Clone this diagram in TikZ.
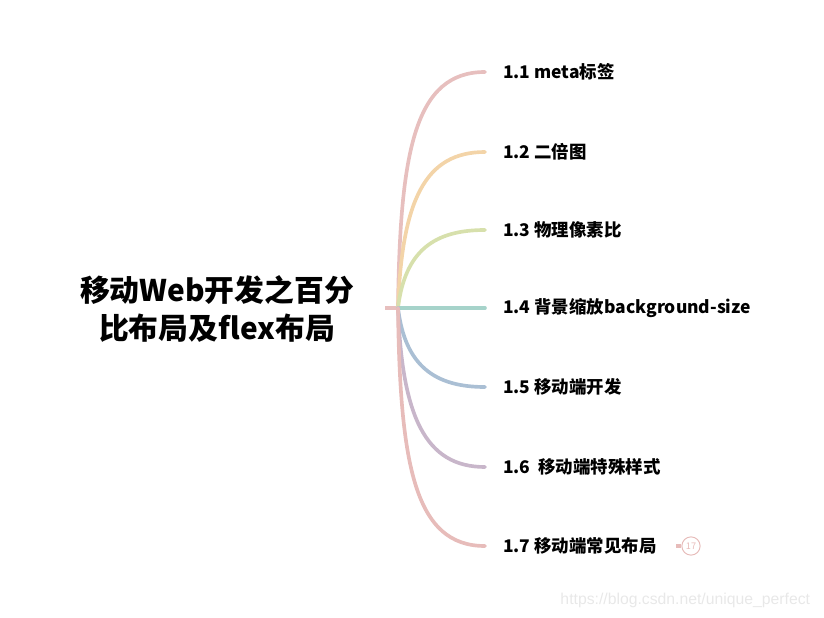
\documentclass[tikz,border=0pt]{standalone}
\usepackage{fontspec}
\setmainfont{Noto Sans CJK SC}
\newfontfamily\markfont{Liberation Sans}
\usetikzlibrary{positioning}
\tikzset{
c1/.style={color={rgb,255:red,231;green,191;blue,190}},
c2/.style={color={rgb,255:red,243;green,212;blue,168}},
c3/.style={color={rgb,255:red,215;green,224;blue,172}},
c4/.style={color={rgb,255:red,166;green,211;blue,202}},
c5/.style={color={rgb,255:red,170;green,191;blue,212}},
c6/.style={color={rgb,255:red,200;green,182;blue,202}},
c7/.style={color={rgb,255:red,231;green,188;blue,186}},
branch/.style={line width=2.6pt, line cap=round},
topic/.style={anchor=west, inner xsep=12.7pt, inner ysep=0pt, font=\fontsize{12.4}{14}\selectfont\bfseries},
}

\begin{document}
\begin{tikzpicture}[
        x=0.025cm, y=-0.025cm,
        root/.style={align=center, font=\fontsize{21.2}{27}\selectfont\bfseries}
    ]
    \useasboundingbox (0,0) rectangle (824,618);
    \node[root] (R) at (217,309) {移动Web开发之百分\\比布局及flex布局};
    \coordinate (S) at (385,308);
    \coordinate (H) at (398,308);
    \draw[branch, c1, line cap=butt] (S) -- (H);

    \node[topic] (T1) at (485,72) {1.1 meta标签};
    \node[topic] (T2) at (485,152) {1.2 二倍图};
    \node[topic] (T3) at (485,230) {1.3 物理像素比};
    \node[topic] (T4) at (485,308) {1.4 背景缩放background-size};
    \node[topic] (T5) at (485,387) {1.5 移动端开发};
    \node[topic] (T6) at (485,467) {1.6 \ 移动端特殊样式};
    \node[topic] (T7) at (485,546) {1.7 移动端常见布局};

    \draw[branch, c1] (H) .. controls (400,150) and (415,72) .. (T1.west);
    \draw[branch, c2] (H) .. controls (402,200) and (425,152) .. (T2.west);
    \draw[branch, c3] (H) .. controls (405,250) and (435,230) .. (T3.west);
    \draw[branch, c4] (H) -- (T4.west);
    \draw[branch, c5] (H) .. controls (405,366) and (435,387) .. (T5.west);
    \draw[branch, c6] (H) .. controls (402,416) and (425,467) .. (T6.west);
    \draw[branch, c7] (H) .. controls (400,466) and (415,546) .. (T7.west);

    % collapsed children
    \node[circle, draw, c7, line width=0.7pt, inner sep=0pt, minimum size=13,
          font=\fontsize{6.5}{7}\selectfont] (N7) at (691,546) {17};
    \coordinate (K7) at (676,546);
    \draw[c7, line width=3pt] (K7) -- (N7.west);

    \node[anchor=east, color=black!9, font=\markfont\fontsize{11.2}{13}\selectfont] (W) at (815,600) {https://blog.csdn.net/unique\_perfect};
\end{tikzpicture}
\end{document}
